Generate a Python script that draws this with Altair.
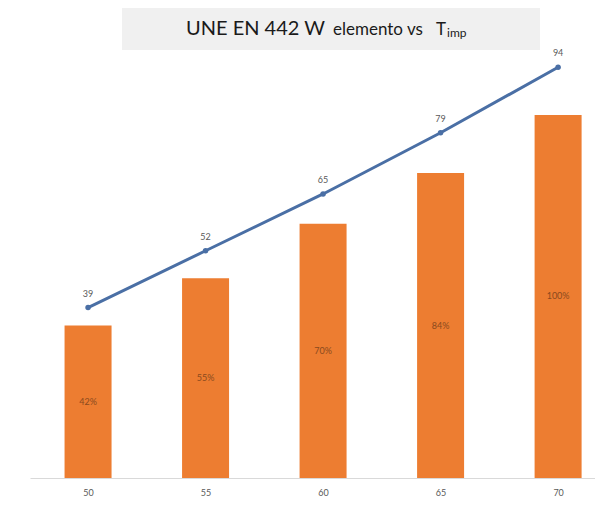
import altair as alt
import pandas as pd

temps = [50, 55, 60, 65, 70]
watts = [39, 52, 65, 79, 94]
pct = [42, 55, 70, 84, 100]

df = pd.DataFrame({
    "temp": temps,
    "watts": watts,
    "pct": pct,
    "pct_label": [f"{p}%" for p in pct],
})

FONT = "Lato"

x = alt.X(
    "temp:Q",
    scale=alt.Scale(domain=[47.53, 71.57], nice=False, zero=False, padding=0),
    axis=alt.Axis(values=temps, title=None, grid=False, ticks=False,
                  domainColor="#d9d9d9", domainWidth=1, labelColor="#595959",
                  labelFontSize=9, labelPadding=10, labelFont=FONT),
)

base = alt.Chart(df)

bars = base.mark_bar(size=47, color="#ed7d31").encode(
    x=x,
    y=alt.Y("pct:Q", scale=alt.Scale(domain=[0, 116.5], nice=False), axis=None),
)

bar_text = base.transform_calculate(mid="datum.pct / 2").mark_text(
    color="#8a4a1e", fontSize=9, font=FONT
).encode(
    x=x,
    y=alt.Y("mid:Q", scale=alt.Scale(domain=[0, 116.5], nice=False), axis=None),
    text="pct_label:N",
)

yl = alt.Y("watts:Q", scale=alt.Scale(domain=[0, 96.8], nice=False), axis=None)

line = base.mark_line(color="#4a6fa5", strokeWidth=3).encode(x=x, y=yl)
pts = base.mark_point(filled=True, size=30, color="#4a6fa5", opacity=1).encode(x=x, y=yl)
line_text = base.mark_text(color="#595959", fontSize=9, font=FONT, dy=-14).encode(
    x=x, y=yl, text="watts:Q"
)

one = pd.DataFrame({"a": [0]})
title_rect = alt.Chart(one).mark_rect(color="#f0f0f0").encode(
    x=alt.value(92), x2=alt.value(510), y=alt.value(-47), y2=alt.value(-5)
)
t1 = alt.Chart(one).mark_text(text="UNE EN 442 W", align="left", baseline="alphabetic",
                              fontSize=20, font=FONT, color="#1a1a1a").encode(
    x=alt.value(156), y=alt.value(-20))
t2 = alt.Chart(one).mark_text(text="elemento vs", align="left", baseline="alphabetic",
                              fontSize=17, font=FONT, color="#1a1a1a").encode(
    x=alt.value(303), y=alt.value(-20))
t2b = alt.Chart(one).mark_text(text="T", align="left", baseline="alphabetic",
                               fontSize=17, font=FONT, color="#1a1a1a").encode(
    x=alt.value(406), y=alt.value(-20))
t3 = alt.Chart(one).mark_text(text="imp", align="left", baseline="alphabetic",
                              fontSize=12, font=FONT, color="#1a1a1a").encode(
    x=alt.value(417), y=alt.value(-18))

chart = alt.layer(
    title_rect, t1, t2, t2b, t3, bars, bar_text, line, pts, line_text
).resolve_scale(y="independent").properties(
    width=565, height=423,
    autosize=alt.AutoSizeParams(type="none"),
    padding={"left": 22, "top": 47, "right": 0, "bottom": 30},
).configure_view(stroke=None)

chart.save("out.html", embed_options={"renderer": "svg", "actions": False})
